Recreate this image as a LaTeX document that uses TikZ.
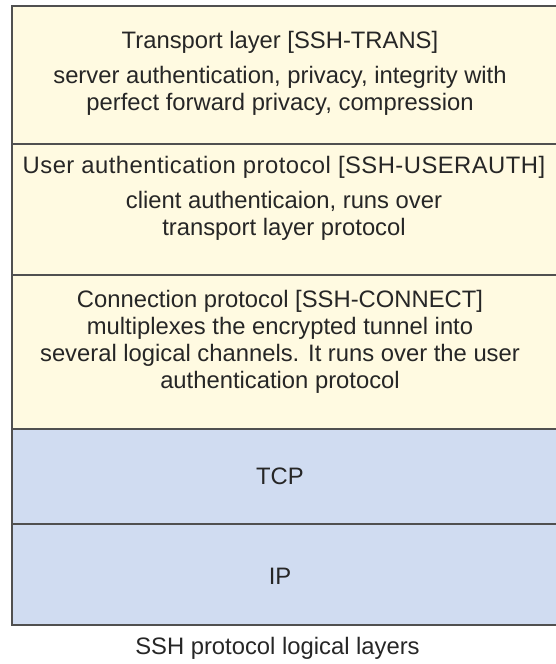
\documentclass[tikz,border=0pt]{standalone}
\usepackage{fontspec}
\setmainfont{Liberation Sans}
\usetikzlibrary{positioning,calc}
\definecolor{sshyellow}{HTML}{FFFAE1}
\definecolor{sshblue}{HTML}{D0DCF1}
\definecolor{sshline}{HTML}{505050}
\definecolor{sshtext}{HTML}{262626}

\begin{document}
\begin{tikzpicture}[
    x=1pt, y=1pt,
    node distance=0pt,
    every node/.style={font=\fontsize{23.8}{27}\selectfont, text=sshtext},
    layer/.style={rectangle, draw=sshline, line width=1.6pt, outer sep=0pt,
                  minimum width=552pt, inner sep=0pt},
    upper/.style={layer, fill=sshyellow},
    lower/.style={layer, fill=sshblue},
    txt/.style={align=center, inner sep=0pt},
]
\useasboundingbox (0,0) rectangle (555,664);

% Layers, top to bottom
\node[upper, minimum height=138pt] (trans) at (288,589) {};
\node[upper, minimum height=131pt, below=of trans] (userauth) {};
\node[upper, minimum height=154pt, below=of userauth] (connect) {};
\node[lower, minimum height=95pt, below=of connect] (tcp) {};
\node[lower, minimum height=101pt, below=of tcp] (ip) {};

% Layer texts
\node[txt] (transtxt) at ([xshift=-8pt, yshift=2pt]trans.center)
  {Transport layer [SSH-TRANS]\\[8pt]
   server authentication, privacy, integrity with\\
   perfect forward privacy, compression};
\node[txt] (userauthtxt) at ([xshift=-4pt, yshift=11.5pt]userauth.center)
  {{\addfontfeature{LetterSpace=2}User authentication protocol [SSH-USERAUTH]}\\[8pt]
   client authenticaion, runs over\\
   transport layer protocol};
\node[txt] (connecttxt) at ([xshift=-8pt, yshift=10pt]connect.center)
  {Connection protocol [SSH-CONNECT]\\
   multiplexes the encrypted tunnel into\\
   several logical channels. It runs over the user\\
   authentication protocol};
\node[txt] (tcptxt) at ([xshift=-8pt]tcp.center) {TCP};
\node[txt] (iptxt) at ([xshift=-8pt, yshift=-1.5pt]ip.center) {IP};

% Caption
\node[txt] (caption) at (277.5,16) {SSH protocol logical layers};
\end{tikzpicture}
\end{document}
